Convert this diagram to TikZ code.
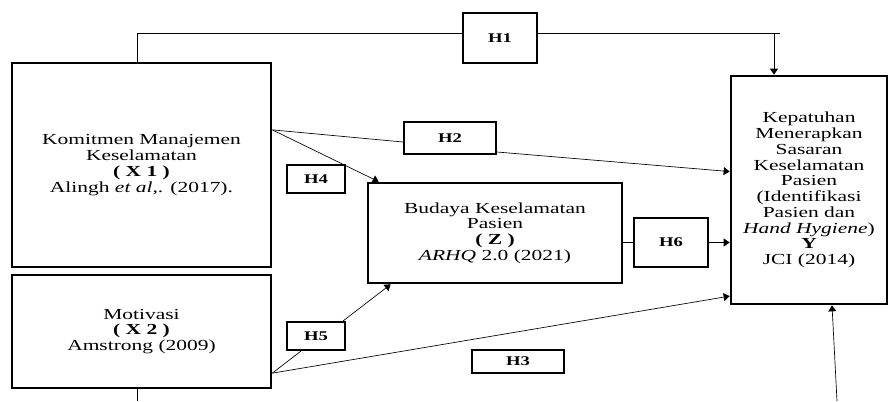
\documentclass[tikz,border=0pt]{standalone}
\usepackage{fontspec}
\setmainfont[FakeStretch=1.4]{Liberation Serif}
\usepackage{tikz}
\usetikzlibrary{arrows.meta, calc}

\begin{document}
\begin{tikzpicture}[
  x=0.75pt, y=-0.75pt,
  font=\fontsize{11.5}{11.8}\selectfont,
  varbox/.style={rectangle, draw=black, line width=2pt, align=center, inner sep=2pt},
  hbox/.style={rectangle, draw=black, fill=white, line width=1.6pt, align=center,
    inner sep=0pt, font=\fontsize{10}{10}\selectfont\bfseries},
  line/.style={black, line width=0.5pt},
  arr/.style={-{Triangle[length=4.5pt, width=6pt]}, black, line width=0.5pt}
]
\useasboundingbox (0,0) rectangle (889,401);

% variables
\node[varbox, minimum width=194.25pt, minimum height=153pt] (x1) at (141.5,165)
  {Komitmen Manajemen\\Keselamatan\\\textbf{( X 1 )}\\Alingh \textit{et al,}. (2017).};
\node[varbox, minimum width=194.25pt, minimum height=84.75pt] (x2) at (141.5,331.5)
  {Motivasi\\\textbf{( X 2 )}\\Amstrong (2009)};
\node[varbox, minimum width=190.5pt, minimum height=75pt] (z) at (495,233)
  {Budaya Keselamatan\\Pasien\\\textbf{( Z )}\\\textit{ARHQ} 2.0 (2021)};
\node[varbox, minimum width=117pt, minimum height=171pt] (y) at (809,190)
  {Kepatuhan\\Menerapkan\\Sasaran\\Keselamatan\\Pasien\\(Identifikasi\\Pasien dan\\\textit{Hand Hygiene})\\\textbf{Y}\\JCI (2014)};

% hypotheses
\node[hbox, minimum width=55.5pt, minimum height=37.5pt] (h1) at (500,38) {H1};
\node[hbox, minimum width=69pt, minimum height=24pt] (h2) at (450,138) {H2};
\node[hbox, minimum width=43.5pt, minimum height=21pt] (h4) at (316,179) {H4};
\node[hbox, minimum width=43.5pt, minimum height=21pt] (h5) at (316,336) {H5};
\node[hbox, minimum width=55.5pt, minimum height=36.75pt] (h6) at (671,242.5) {H6};
\node[hbox, minimum width=69pt, minimum height=17.25pt] (h3) at (518,361.5) {H3};

\coordinate (h1left) at (137,33);
\coordinate (h1right) at (780,33);
\coordinate (h1down) at (774,33);
\coordinate (x1out) at ($(x1.north east)!0.33!(x1.south east)$);
\coordinate (x2out) at ($(x2.north east)!0.86!(x2.south east)$);
\coordinate (ybot) at (837,401);
\coordinate (x2bot) at (137,401);

% H1
\draw[line] (h1left |- x1.north) -- (h1left) -- (h1left -| h1.west);
\draw[line] (h1left -| h1.east) -- (h1right);
\draw[arr] (h1down) -- (h1down |- y.north);
% H2
\draw[line] (x1out) -- ($(h2.west)+(0,4)$);
\draw[arr] ($(h2.east)+(0,14)$) -- ($(y.north west)!0.42!(y.south west)$);
% H4
\draw[arr] (x1out) -- ($(z.north west)+(12,0)$);
% H6
\draw[line] (h6.west -| z.east) -- (h6.west);
\draw[arr] (h6.east) -- (h6.east -| y.west);
% H5
\draw[line] (x2out) -- ($(h5.south west)+(15,0)$);
\draw[arr] ($(h5.north east)+(-3,0)$) -- ($(z.south west)+(24,0)$);
% H3
\draw[arr] (x2out) -- ($(y.north west)!0.96!(y.south west)$);
% lower lines
\draw[arr] (ybot) -- ($(y.south)+(23,0)$);
\draw[line] (x2bot |- x2.south) -- (x2bot);

\end{tikzpicture}
\end{document}
